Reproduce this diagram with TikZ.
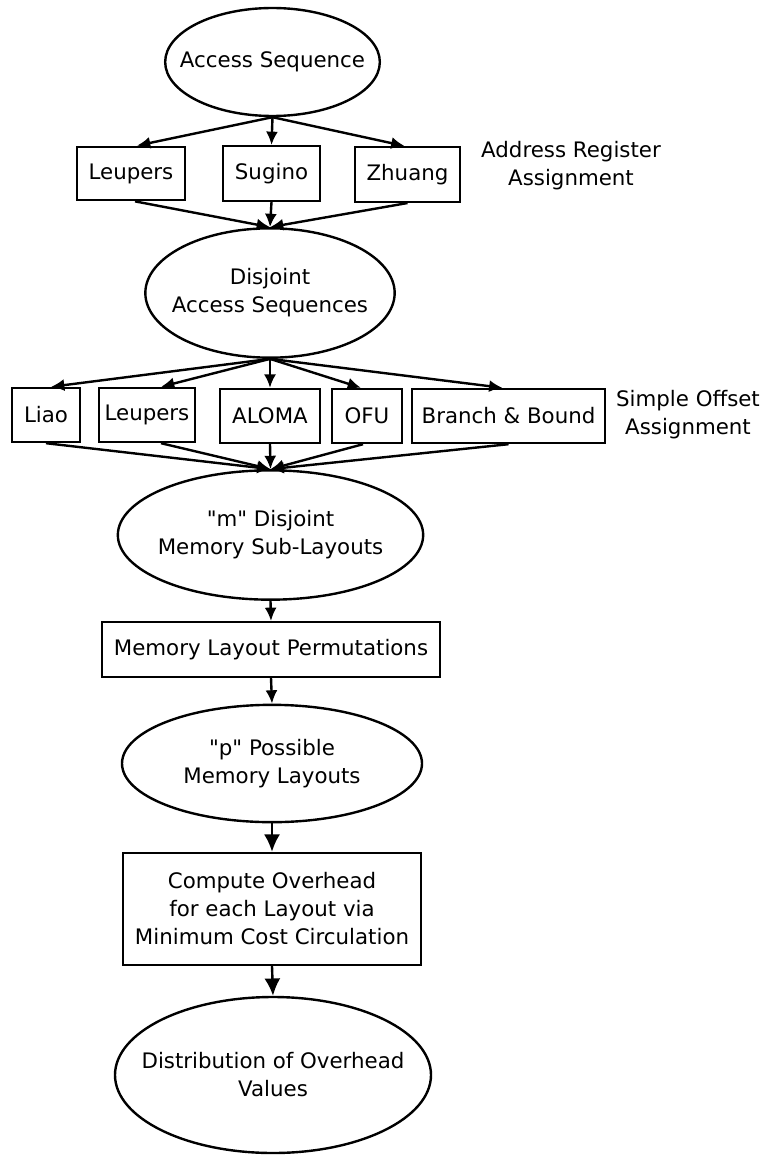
\documentclass[tikz,border=0pt]{standalone}
\usepackage{fontspec}
\setmainfont{DejaVu Sans}[Ligatures=TeXOff]
\usetikzlibrary{shapes.geometric,arrows.meta,calc}
\begin{document}
\begin{tikzpicture}[x=0.75pt,y=-0.75pt,
  every node/.style={font=\fontsize{16}{21}\selectfont, align=center, inner sep=0pt},
  oval/.style={draw, ellipse, line width=1.8pt},
  box/.style={draw, rectangle, line width=1.8pt},
  arr/.style={line width=1.8pt, -{Latex[length=10pt,width=9pt]}},
  bigarr/.style={line width=1.8pt, -{Latex[length=13pt,width=12pt]}}]
\useasboundingbox (0,0) rectangle (766,1156);

% ellipse outlines (fixed size), labels set on top
\node[oval, minimum width=161pt, minimum height=81pt] (acc) at (272.5,62) {};
\node at (acc) {Access Sequence};
\node[oval, minimum width=187pt, minimum height=97pt] (dis) at (270,293) {};
\node at (dis) {Disjoint\\Access Sequences};
\node[oval, minimum width=229pt, minimum height=97pt] (msub) at (270.5,535) {};
\node at (msub) {"m" Disjoint\\Memory Sub-Layouts};
\node[oval, minimum width=225pt, minimum height=88pt] (pmem) at (272,763.5) {};
\node at (pmem) {"p" Possible\\Memory Layouts};
\node[oval, minimum width=237pt, minimum height=117pt] (dist) at (273,1075) {};
\node at (dist) {Distribution of Overhead\\Values};

% address register assignment row
\node[box, minimum width=81pt, minimum height=40pt] (leu1) at (131,173.5) {Leupers};
\node[box, minimum width=73pt, minimum height=41pt] (sug) at (271.5,173.5) {Sugino};
\node[box, minimum width=79pt, minimum height=41pt] (zhu) at (407.5,174.5) {Zhuang};
\node (ara) at (571,166) {Address Register\\Assignment};

% simple offset assignment row
\node[box, minimum width=51pt, minimum height=40.5pt] (liao) at (46,415) {Liao};
\node[box, minimum width=72pt, minimum height=40.5pt] (leu2) at (147,415) {Leupers};
\node[box, minimum width=75pt, minimum height=40.5pt] (aloma) at (270,416) {ALOMA};
\node[box, minimum width=52.5pt, minimum height=40.5pt] (ofu) at (367,416) {OFU};
\node[box, minimum width=145pt, minimum height=40.5pt] (bb) at (508.5,416) {Branch \& Bound};
\node (soa) at (688,415) {Simple Offset\\Assignment};

% lower chain
\node[box, minimum width=253.5pt, minimum height=41pt] (perm) at (271,649.5) {Memory Layout Permutations};
\node[box, minimum width=223.5pt, minimum height=84pt] (cost) at (272,909) {Compute Overhead\\for each Layout via\\Minimum Cost Circulation};

% connectors
\draw[arr] (acc.south) -- ($(leu1.north)+(6,0)$);
\draw[arr] (acc.south) -- (sug.north);
\draw[arr] (acc.south) -- ($(zhu.north)+(-3,0)$);
\draw[arr] ($(leu1.south)+(4,0)$) -- (dis.north);
\draw[arr] (sug.south) -- (dis.north);
\draw[arr] (zhu.south) -- (dis.north);

\draw[arr] (dis.south) -- ($(liao.north)+(5,0)$);
\draw[arr] (dis.south) -- ($(leu2.north)+(14,0)$);
\draw[arr] (dis.south) -- (aloma.north);
\draw[arr] (dis.south) -- ($(ofu.north)+(-6,0)$);
\draw[arr] (dis.south) -- ($(bb.north)+(-6,0)$);
\draw[arr] (liao.south) -- (msub.north);
\draw[arr] ($(leu2.south)+(14,0)$) -- (msub.north);
\draw[arr] (aloma.south) -- (msub.north);
\draw[arr] ($(ofu.south)+(-4,0)$) -- (msub.north);
\draw[arr] (bb.south) -- (msub.north);

\draw[arr] (msub.south) -- (perm.north);
\draw[arr] (perm.south) -- (pmem.north);
\draw[bigarr] (pmem.south) -- (cost.north);
\draw[bigarr] (cost.south) -- (dist.north);
\end{tikzpicture}
\end{document}
